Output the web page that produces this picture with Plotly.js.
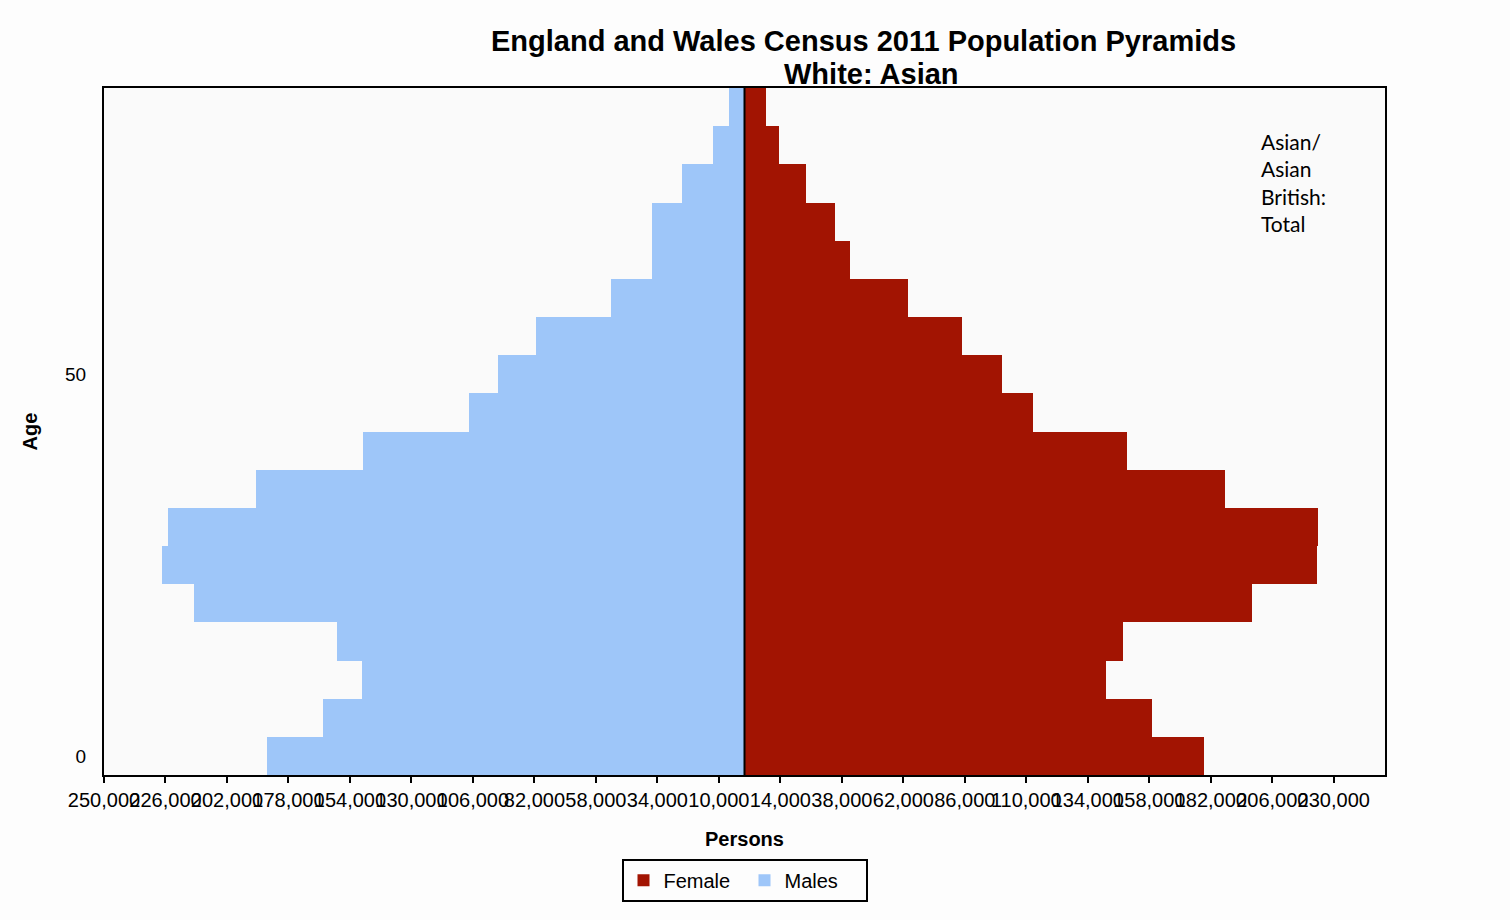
<!DOCTYPE html>
<html>
<head>
<meta charset="utf-8">
<script src="https://cdn.plot.ly/plotly-3.0.1.min.js"></script>
<style>
  html, body { margin: 0; padding: 0; background: #fdfdfd; }
  #graph { width: 1510px; height: 920px; }
</style>
</head>
<body>
<div id="graph"></div>
<script>
// age band starts, 0-4 up to 85+
var ages = [0, 5, 10, 15, 20, 25, 30, 35, 40, 45, 50, 55, 60, 65, 70, 75, 80, 85];

// Asian/Asian British persons per band
var males = [186500, 164600, 149300, 159000, 214900, 227200, 224900, 190700, 149000,
             107500, 96200, 81500, 52200, 36000, 36000, 24500, 12400, 5900];
var females = [179500, 159000, 141100, 147600, 198100, 223300, 224000, 187500, 149200,
               112700, 100500, 85000, 63900, 41200, 35400, 24000, 13600, 8400];

// x ticks every 24,000 from the left edge, labels shown as absolute counts
var tickVals = [-250000, -226000, -202000, -178000, -154000, -130000, -106000, -82000,
                -58000, -34000, -10000, 14000, 38000, 62000, 86000, 110000, 134000,
                158000, 182000, 206000, 230000];
var tickText = tickVals.map(function (v) { return Math.abs(v).toLocaleString("en-GB"); });

var titleLines = ["England and Wales Census 2011 Population Pyramids", "White: Asian"];

function plotPyramid() {
  var female = {
    x: females,
    y: ages,
    type: "bar",
    orientation: "h",
    width: 5,
    name: "Female",
    marker: { color: "#a21402", line: { width: 0 } },
    hoverinfo: "x+y+name"
  };
  var male = {
    x: males.map(function (v) { return -v; }),
    y: ages,
    type: "bar",
    orientation: "h",
    width: 5,
    name: "Males",
    marker: { color: "#9ec6f9", line: { width: 0 } },
    hoverinfo: "y+name"
  };
  var data = [female, male];

  var titleFont = { family: "Arial, Liberation Sans, sans-serif", size: 29, color: "#000" };

  var layout = {
    width: 1510,
    height: 920,
    paper_bgcolor: "#fdfdfd",
    plot_bgcolor: "#fafafa",
    margin: { l: 104, r: 125, t: 88, b: 145 },
    barmode: "overlay",
    bargap: 0,
    font: { family: "Arial, Liberation Sans, sans-serif", color: "#000" },
    xaxis: {
      range: [-250000, 250000],
      tickvals: tickVals,
      ticktext: tickText,
      tickangle: 0,
      ticks: "outside",
      ticklen: 6,
      tickwidth: 1.5,
      tickcolor: "#000",
      tickfont: { size: 20 },
      showgrid: false,
      zeroline: false,
      showline: true,
      mirror: true,
      linecolor: "#000",
      linewidth: 2,
      title: {
        text: "<b>Persons</b>",
        font: { size: 20 },
        standoff: 22
      }
    },
    yaxis: {
      range: [-2.5, 87.5],
      tickvals: [0, 50],
      ticktext: ["0", "50"],
      ticks: "",
      ticklabelstandoff: 12,
      tickfont: { size: 19 },
      showgrid: false,
      zeroline: false,
      showline: true,
      mirror: true,
      linecolor: "#000",
      linewidth: 2,
      title: {
        text: "<b>Age</b>",
        font: { size: 20 },
        standoff: 22
      }
    },
    shapes: [{
      type: "line",
      xref: "x",
      yref: "paper",
      x0: 0, x1: 0,
      y0: 0, y1: 1,
      line: { color: "#000", width: 2 }
    }],
    annotations: [{
      text: "<b>" + titleLines[0] + "</b>",
      xref: "paper", yref: "paper",
      x: 0.593, y: 1.0684,
      xanchor: "center", yanchor: "middle",
      showarrow: false,
      font: titleFont
    }, {
      text: "<b>" + titleLines[1] + "</b>",
      xref: "paper", yref: "paper",
      x: 0.599, y: 1.0204,
      xanchor: "center", yanchor: "middle",
      showarrow: false,
      font: titleFont
    }, {
      text: "Asian/<br>Asian<br>British:<br>Total",
      xref: "paper",
      yref: "paper",
      x: 0.9015,
      y: 0.943,
      xanchor: "left",
      yanchor: "top",
      align: "left",
      showarrow: false,
      font: { family: "Lato, Open Sans, sans-serif", size: 21, color: "#000" }
    }],
    legend: {
      orientation: "h",
      x: 0.5,
      xanchor: "center",
      y: -0.122,
      yanchor: "top",
      bordercolor: "#000",
      borderwidth: 2,
      bgcolor: "#fdfdfd",
      font: { size: 20 },
      entrywidth: 76,
      traceorder: "normal"
    },
    showlegend: true
  };

  Plotly.newPlot("graph", data, layout, { displayModeBar: false });
}
plotPyramid();
</script>
</body>
</html>
